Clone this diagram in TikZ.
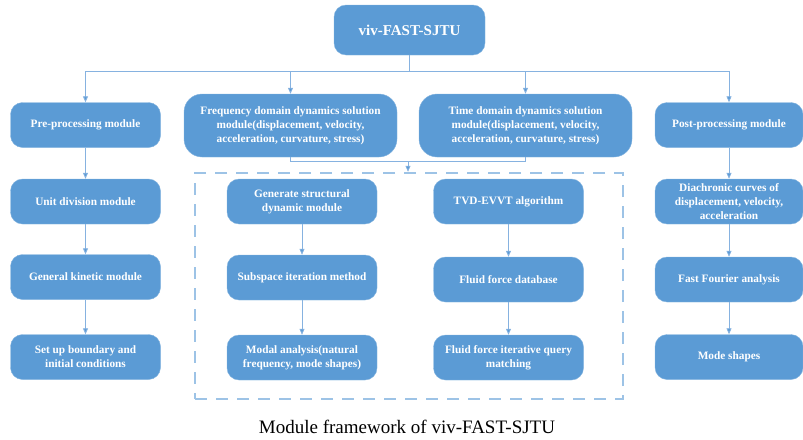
\documentclass[tikz,border=0pt]{standalone}
\usepackage{fontspec}
\setmainfont{Liberation Serif}
\usepackage{tikz}
\usetikzlibrary{arrows.meta}
\definecolor{boxblue}{HTML}{5B9BD5}
\definecolor{lineblue}{HTML}{86B2E0}
\definecolor{dashblue}{HTML}{9DC3E6}
\tikzstyle{module}=[draw=boxblue!75!white, fill=boxblue, rounded corners=12pt, text=white,
                    font=\fontsize{11.3}{14}\selectfont\bfseries, align=center,
                    inner sep=0, minimum width=150pt, minimum height=45pt]
\tikzstyle{wmodule}=[module, rounded corners=18pt, minimum width=213pt, minimum height=63pt]
\tikzstyle{link}=[draw=lineblue, line width=0.8pt, -{Triangle[length=6pt, width=5pt, fill=boxblue]}]
\tikzstyle{plainlink}=[draw=lineblue, line width=0.8pt]
\tikzstyle{group}=[draw=dashblue, line width=2.4pt, dash pattern=on 12pt off 9pt, inner sep=0]

\begin{document}
\begin{tikzpicture}[x=1pt, y=-1pt]
        \useasboundingbox (0, 0) rectangle (803, 439);
        % top of the tree
        \node[module, font=\fontsize{15}{18}\selectfont\bfseries, minimum width=151pt, minimum height=50pt] (Top) at (409.5, 30) {viv-FAST-SJTU};
        \node[module] (Pre) at (85.5, 125) {Pre-processing module};
        \node[wmodule] (Freq) at (290.5, 125.5) {Frequency domain dynamics solution\\module(displacement, velocity,\\acceleration, curvature, stress)};
        \node[wmodule] (Time) at (525.5, 125.5) {Time domain dynamics solution\\module(displacement, velocity,\\acceleration, curvature, stress)};
        \node[module, minimum width=148pt] (Post) at (729, 125) {Post-processing module};
        % left column
        \node[module] (Unit) at (85.5, 201.5) {Unit division module};
        \node[module] (Kinetic) at (85.5, 277) {General kinetic module};
        \node[module] (Boundary) at (85.5, 357) {Set up boundary and\\initial conditions};
        % dashed group
        \node[group, minimum width=428pt, minimum height=226pt] (Group) at (409, 286) {};
        \node[module] (Struct) at (302, 201.5) {Generate structural\\dynamic module};
        \node[module] (Subspace) at (302, 277.5) {Subspace iteration method};
        \node[module] (Modal) at (302, 357.5) {Modal analysis(natural\\frequency, mode shapes)};
        \node[module] (TVD) at (508.5, 201.5) {TVD-EVVT algorithm};
        \node[module] (Database) at (508.5, 279.5) {Fluid force database};
        \node[module] (Query) at (508.5, 357.5) {Fluid force iterative query\\matching};
        % right column
        \node[module, minimum width=148pt] (Curves) at (729, 201.5) {Diachronic curves of\\displacement, velocity,\\acceleration};
        \node[module, minimum width=148pt] (Fourier) at (729, 279.5) {Fast Fourier analysis};
        \node[module, minimum width=148pt] (Shapes) at (729, 357) {Mode shapes};
        \node[font=\fontsize{19}{22}\selectfont] (Caption) at (407, 427) {Module framework of viv-FAST-SJTU};

        \coordinate (bus) at (409.5, 71);
        \coordinate (join) at (408, 161);
        \draw[link] (Top) -- (bus) -| (Pre);
        \draw[link] (bus) -| (Freq);
        \draw[link] (bus) -| (Time);
        \draw[link] (bus) -| (Post);
        \draw[plainlink] (Freq.south) |- (join);
        \draw[plainlink] (Time.south) |- (join);
        \draw[link] (join) -- (join |- Group.north);
        \draw[link] (Pre) -- (Unit);
        \draw[link] (Unit) -- (Kinetic);
        \draw[link] (Kinetic) -- (Boundary);
        \draw[link] (Struct) -- (Subspace);
        \draw[link] (Subspace) -- (Modal);
        \draw[link] (TVD) -- (Database);
        \draw[link] (Database) -- (Query);
        \draw[link] (Post) -- (Curves);
        \draw[link] (Curves) -- (Fourier);
        \draw[link] (Fourier) -- (Shapes);
    \end{tikzpicture}
\end{document}
